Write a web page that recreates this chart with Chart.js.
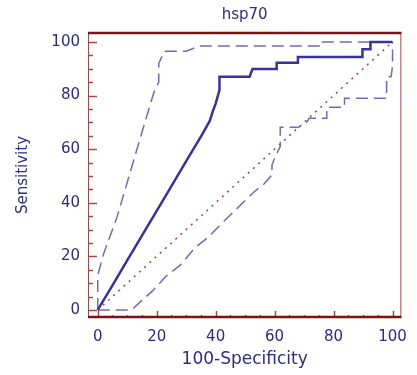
<!DOCTYPE html>
<html>
<head>
<meta charset="utf-8">
<script src="https://cdn.jsdelivr.net/npm/chart.js@4.4.1/dist/chart.umd.min.js"></script>
<style>
  html, body { margin: 0; padding: 0; background: #fff; }
  #wrap { width: 417px; height: 375px; }
</style>
</head>
<body>
<div id="wrap"><canvas id="roc"></canvas></div>
<script>
// ROC data
const rocX = [0, 5, 10, 15, 20, 25, 30, 35, 38, 39, 40, 41.3, 41.3, 51.5, 52.5, 60.7, 60.7, 67.9, 67.9, 89.8, 89.8, 92.5, 92.5, 100]
const rocY = [0, 9.2, 18.5, 27.7, 37, 46.2, 55.5, 64.7, 70.5, 74, 77, 82, 87, 87, 89.9, 89.9, 92.2, 92.2, 94.4, 94.4, 97.3, 97.3, 100, 100]

const upperX = [0, 0, 2, 6.5, 16, 19, 20.7, 20.7, 22.6, 30, 34.5, 76, 76, 100]
const upperY = [0, 13, 21, 34.5, 70, 81, 85, 92, 96.5, 96.5, 98.5, 98.5, 100, 100]

const lowerX = [0, 11.5, 15.8, 18.6, 23, 27.9, 32.8, 37.3, 43.8, 53.1, 56.4, 59.1, 59.1, 60.2, 61.9, 61.9, 68.2, 71.1, 71.7, 77.7, 77.7, 83.7, 83.7, 98, 98, 99.5, 100, 100]
const lowerY = [0, 0, 4.4, 7.1, 12.4, 16.6, 23, 27, 34.2, 44.1, 47, 50.4, 54.1, 57.2, 61, 68.2, 68.2, 70.3, 71.5, 71.5, 75.6, 75.6, 79, 79, 87, 87, 91, 100]

const diagX = [0, 100]
const diagY = [0, 100]

const tickVals = [0, 20, 40, 60, 80, 100]
const minorVals = [0, 5, 10, 15, 20, 25, 30, 35, 40, 45, 50, 55, 60, 65, 70, 75, 80, 85, 90, 95, 100]

const pts = (xs, ys) => xs.map((x, i) => ({ x: x, y: ys[i] }))

const blue = '#2b2b8c'
const frameDark = '#7a1414'
const frameLight = '#a04848'

// frame, inward ticks and title
const frame = {
  id: 'frame',
  afterDraw(chart) {
    const { ctx, chartArea: a, scales } = chart
    ctx.save()
    // ticks
    ctx.strokeStyle = frameLight
    ctx.lineWidth = 1.5
    minorVals.forEach(v => {
      const major = tickVals.includes(v)
      const py = Math.round(scales.y.getPixelForValue(v)) + 0.5
      ctx.beginPath()
      ctx.moveTo(a.left, py)
      ctx.lineTo(a.left + (major ? 9 : 5), py)
      ctx.stroke()
      const px = Math.round(scales.x.getPixelForValue(v)) + 0.5
      ctx.beginPath()
      ctx.moveTo(px, a.bottom)
      ctx.lineTo(px, a.bottom - (major ? 7 : 3))
      ctx.stroke()
    })
    // borders
    ctx.lineWidth = 1
    ctx.strokeStyle = frameLight
    ctx.beginPath()
    ctx.moveTo(a.left + 0.5, a.top)
    ctx.lineTo(a.left + 0.5, a.bottom)
    ctx.moveTo(a.right - 0.5, a.top)
    ctx.lineTo(a.right - 0.5, a.bottom)
    ctx.stroke()
    ctx.lineWidth = 2.5
    ctx.strokeStyle = frameDark
    ctx.beginPath()
    ctx.moveTo(a.left, a.top + 1)
    ctx.lineTo(a.right, a.top + 1)
    ctx.moveTo(a.left, a.bottom - 1)
    ctx.lineTo(a.right, a.bottom - 1)
    ctx.stroke()
    // title
    ctx.fillStyle = blue
    ctx.font = '15px "DejaVu Sans"'
    ctx.textAlign = 'center'
    ctx.textBaseline = 'middle'
    ctx.fillText('hsp70', (a.left + a.right) / 2, 15)
    ctx.restore()
  }
}

new Chart(document.getElementById('roc'), {
  type: 'scatter',
  data: {
    datasets: [
      {
        label: 'ROC',
        data: pts(rocX, rocY),
        showLine: true,
        borderColor: '#3434a0',
        borderWidth: 2.5,
        pointRadius: 0,
        order: 1
      },
      {
        label: 'upper',
        data: pts(upperX, upperY),
        showLine: true,
        borderColor: '#6b6bc6',
        borderWidth: 1.5,
        borderDash: [12, 6],
        pointRadius: 0,
        order: 2
      },
      {
        label: 'lower',
        data: pts(lowerX, lowerY),
        showLine: true,
        borderColor: '#6b6bc6',
        borderWidth: 1.5,
        borderDash: [12, 6],
        pointRadius: 0,
        order: 3
      },
      {
        label: 'diag',
        data: pts(diagX, diagY),
        showLine: true,
        borderColor: '#b03c3c',
        borderWidth: 1.5,
        borderDash: [2, 5],
        pointRadius: 0,
        order: 4
      }
    ]
  },
  options: {
    responsive: true,
    maintainAspectRatio: false,
    animation: false,
    layout: { padding: { top: 32, right: 5, left: 0, bottom: 0 } },
    plugins: {
      legend: { display: false },
      tooltip: { enabled: false }
    },
    scales: {
      x: {
        type: 'linear',
        min: -3.3,
        max: 103,
        afterFit: s => { s.height = 57 },
        afterBuildTicks: s => { s.ticks = tickVals.map(v => ({ value: v })) },
        border: { display: false },
        grid: { display: false, drawTicks: false },
        ticks: {
          color: blue,
          padding: 10,
          maxRotation: 0,
          font: { family: 'DejaVu Sans', size: 15 }
        },
        title: {
          display: true,
          text: '100-Specificity',
          color: blue,
          padding: { top: 0, bottom: 5 },
          font: { family: 'DejaVu Sans', size: 17 }
        }
      },
      y: {
        type: 'linear',
        min: -3,
        max: 103.7,
        afterFit: s => { s.width = 88 },
        afterBuildTicks: s => { s.ticks = tickVals.map(v => ({ value: v })) },
        border: { display: false },
        grid: { display: false, drawTicks: false },
        ticks: {
          color: blue,
          padding: 8,
          font: { family: 'DejaVu Sans', size: 15 }
        },
        title: {
          display: true,
          text: 'Sensitivity',
          color: blue,
          padding: { top: 14, bottom: 0 },
          font: { family: 'DejaVu Sans', size: 15 }
        }
      }
    }
  },
  plugins: [frame]
})
</script>
</body>
</html>
